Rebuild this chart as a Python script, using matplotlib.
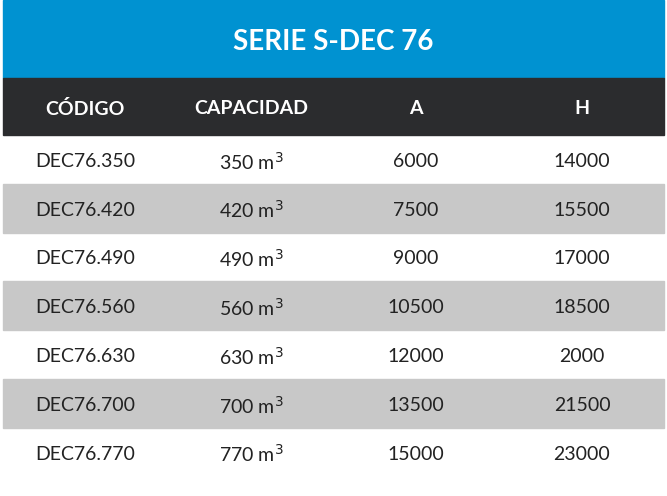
import matplotlib.pyplot as plt
from matplotlib.patches import Rectangle

title = "SERIE S-DEC 76"
headers = ["CÓDIGO", "CAPACIDAD", "A", "H"]
codes = ["DEC76.350", "DEC76.420", "DEC76.490", "DEC76.560", "DEC76.630", "DEC76.700", "DEC76.770"]
capacities = [350, 420, 490, 560, 630, 700, 770]
a_values = [6000, 7500, 9000, 10500, 12000, 13500, 15000]
h_values = [14000, 15500, 17000, 18500, 2000, 21500, 23000]

plt.rcParams['font.family'] = ['Lato', 'DejaVu Sans']
fig = plt.figure(figsize=(6.67, 4.96), dpi=100)
ax = fig.add_axes([0, 0, 1, 1])
ax.set_xlim(0, 667)
ax.set_ylim(496, 0)
ax.axis('off')

x0, x1 = 3, 664
col_x = [85, 251, 416, 582]
ax.add_patch(Rectangle((x0, 0), x1 - x0, 78, color='#0092d1'))
ax.text(333, 42, title, color='white', fontsize=20, fontweight='bold', ha='center', va='center')
ax.add_patch(Rectangle((x0, 78), x1 - x0, 57, color='#2b2c2e'))
for x, h in zip(col_x, headers):
    ax.text(x, 109, h, color='white', fontsize=14, fontweight='bold', ha='center', va='center')

top, rh = 135, 48.8
for i in range(len(codes)):
    y = top + i * rh
    if i % 2 == 1:
        ax.add_patch(Rectangle((x0, y), x1 - x0, rh, color='#c8c8c8'))
    cy = y + rh / 2 + 2
    row = [codes[i], f"{capacities[i]} m$^3$", str(a_values[i]), str(h_values[i])]
    for x, t in zip(col_x, row):
        ax.text(x, cy, t, color='#222222', fontsize=14, ha='center', va='center')

fig.savefig('out.png', dpi=100, facecolor='white')
